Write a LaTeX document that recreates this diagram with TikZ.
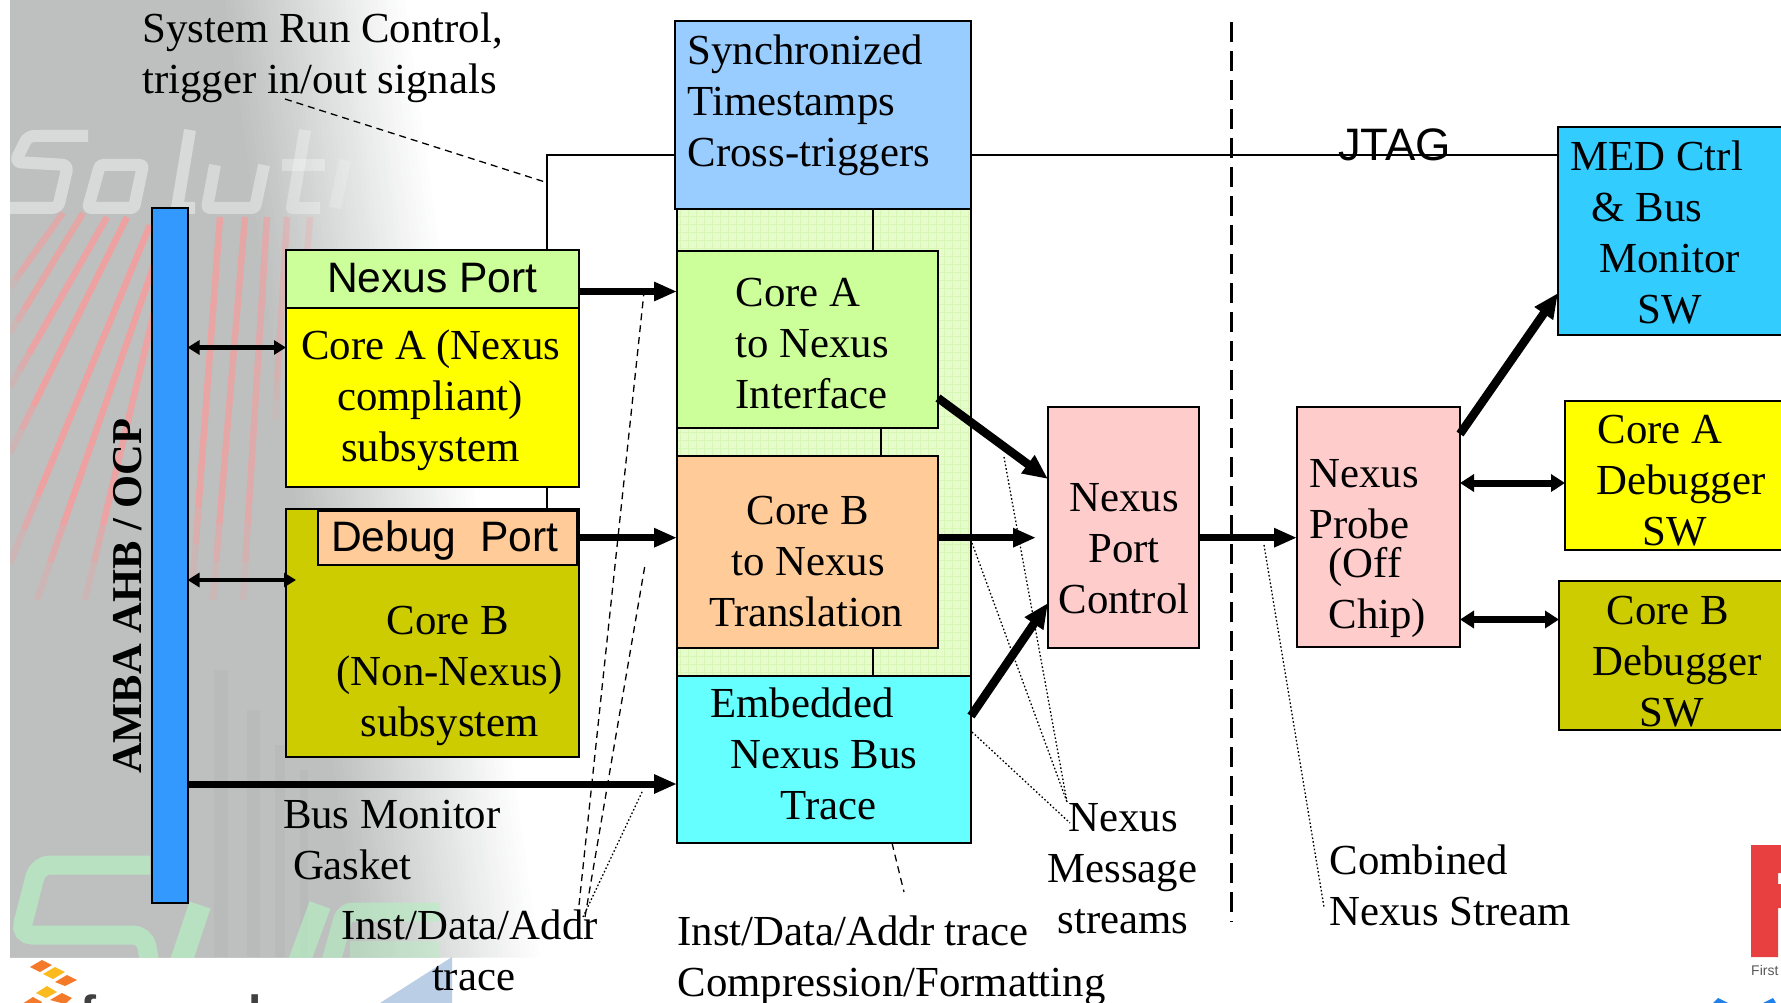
\documentclass[tikz,border=0pt]{standalone}
\usepackage{fontspec}
\setmainfont{Liberation Serif}
\newfontfamily\arialf{Liberation Sans}
\usetikzlibrary{arrows.meta,calc}
\definecolor{bgrey}{HTML}{BDC0BF}
\definecolor{rline}{HTML}{F79C9C}
\definecolor{gS}{HTML}{B6F0C2}
\definecolor{cblue}{HTML}{3399FF}
\definecolor{csky}{HTML}{99CCFF}
\definecolor{clime}{HTML}{CCFF99}
\definecolor{cyel}{HTML}{FFFF00}
\definecolor{colive}{HTML}{CCCC00}
\definecolor{cpeach}{HTML}{FFCC99}
\definecolor{ccyan}{HTML}{66FFFF}
\definecolor{cpink}{HTML}{FFCCCC}
\definecolor{cmed}{HTML}{33CCFF}
\definecolor{chatch}{HTML}{E6FCCB}
\definecolor{cgrid}{HTML}{D6F7B6}
\definecolor{forange}{HTML}{F47A2A}
\definecolor{fyellow}{HTML}{FBBB1E}
\definecolor{tri}{HTML}{BACFE6}
\definecolor{fsred}{HTML}{E84040}
\definecolor{fsblue}{HTML}{1E80E8}
\tikzset{
  box/.style={draw=black,line width=2pt,inner sep=0pt,outer sep=0pt,anchor=north west},
  lbl/.style={inner sep=0pt,outer sep=0pt,anchor=north west,align=left,font=\fontsize{42.8}{51}\selectfont},
  arlbl/.style={inner sep=0pt,outer sep=0pt,anchor=base west,font=\arialf\fontsize{42.6}{51}\selectfont},
  thin line/.style={line width=2pt},
  bigarrow/.style={line width=7pt,-{Triangle[length=23pt,width=18pt]}},
  diagarrow/.style={line width=8.5pt,-{Triangle[length=25pt,width=21pt]}},
  midbi/.style={line width=7pt,{Triangle[length=14pt,width=17pt]}-{Triangle[length=14pt,width=17pt]}},
  smallbi/.style={line width=4.6pt,{Triangle[length=12pt,width=14pt]}-{Triangle[length=12pt,width=14pt]}},
  dashline/.style={line width=1.3pt,dash pattern=on 7pt off 5pt},
  dotline/.style={line width=1.3pt,dash pattern=on 1.6pt off 2.2pt},
  solstroke/.style={draw=white,line width=12pt,line join=round,opacity=.42},
}
\newcommand{\lblat}[4]{\node[lbl] (#1) at (#2-.5,#3+1.4-35.7) {#4};}
\newcommand{\bx}[6]{\node[box,fill=#6,minimum width=#4pt-#2pt,minimum height=#5pt-#3pt] (#1) at (#2,#3) {};}
\begin{document}
\begin{tikzpicture}[x=1pt,y=-1pt]
\useasboundingbox (0,0) rectangle (1781,1003);
\fill[white] (0,0) rectangle (1781,1003);
\clip (0,0) rectangle (1781,1003);
% ---- slide background
\begin{scope}
\clip (10,0) rectangle (800,957);
\foreach \i in {40,39,...,0}{
  \pgfmathsetmacro{\xt}{225+\i*4.6}
  \pgfmathsetmacro{\xb}{\xt+135}
  \pgfmathsetmacro{\mix}{\i*2.5}
  \fill[white!\mix!bgrey] (0,0) -- (\xt,0) -- (\xb,957) -- (0,957) -- cycle;
}
% fan of red lines
\foreach \xa/\ya/\xc/\yc/\op in {63/213/10/287/.6,83/213/10/333/.7,107/217/10/387/.8,127/217/10/453/.85,150/225/10/563/.85,168/225/37/600/.85,175/225/85/600/.8,220/217/193/580/.75,245/217/213/600/.7,267/217/243/600/.6,287/217/275/420/.4,310/217/300/340/.25}{
  \foreach \k in {0,...,9}{
    \pgfmathsetmacro{\ta}{\k/10}
    \pgfmathsetmacro{\tb}{(\k+1)/10}
    \pgfmathsetmacro{\oo}{\op*min(1,(10-\k)/3)}
    \draw[rline,line width=6.5pt,opacity=\oo] ($(\xa,\ya)!\ta!(\xc,\yc)$) -- ($(\xa,\ya)!\tb!(\xc,\yc)$);
  }
}
% darker nested stripes low down
\foreach \xa/\xc/\ya in {214/228/670,247/260/710,275/285/745,300/308/770}{
  \fill[black,opacity=.025] (\xa,\ya) rectangle (\xc,957);
}
% watermark word, top
\draw[solstroke,rounded corners=6pt] (88,136) -- (28,136) -- (15,162) -- (68,165) -- (58,208) -- (10,208);
\draw[solstroke,rounded corners=3pt] (100,165) -- (143,165) -- (134,208) -- (88,208) -- cycle;
\draw[solstroke] (190,130) -- (177,208) -- (195,208);
\draw[solstroke,rounded corners=3pt,opacity=.38] (215,165) -- (207,208) -- (255,208) -- (264,165);
\draw[solstroke,opacity=.3] (305,130) -- (292,208) -- (320,208);
\draw[solstroke,opacity=.3] (282,165) -- (325,165);
\draw[solstroke,opacity=.18] (345,160) -- (335,208);
% watermark word, bottom
\draw[gS,line width=19pt,rounded corners=12pt,opacity=.7] (150,865) -- (38,865) -- (20,935) -- (145,935) -- (150,965);
\draw[gS,line width=22pt,opacity=.7] (200,905) -- (180,965);
\draw[gS,line width=22pt,opacity=.65] (320,905) -- (298,965);
\draw[gS,line width=19pt,opacity=.6,rounded corners=8pt] (440,912) -- (345,912) -- (330,965);
\draw[gS,line width=19pt,opacity=.45] (350,950) -- (440,950);
\end{scope}
% ---- bottom slide artwork
\fill[tri] (380,1003) -- (452,957) -- (452,1003) -- cycle;
\fill[forange] (30,967) -- (42,960) -- (52,965) -- (40,972) -- cycle;
\fill[fyellow] (43,974) -- (55,967) -- (65,972) -- (53,979) -- cycle;
\fill[forange] (55,982) -- (67,975) -- (77,980) -- (65,986) -- cycle;
\fill[fyellow] (36,993) -- (47,986) -- (57,992) -- (46,998) -- cycle;
\fill[forange] (50,1000) -- (62,993) -- (72,998) -- (65,1004) -- cycle;
\fill[forange] (22,1004) -- (33,997) -- (42,1002) -- (40,1004) -- cycle;
\node[inner sep=0pt,anchor=base west,text=black!75,font=\arialf\bfseries\fontsize{48}{60}\selectfont] (frees) at (80,1029) {freescale};
\fill[fsred] (1751,845) -- (1785,845) -- (1785,873) -- (1778,873) -- (1778,884) -- (1785,884) -- (1785,908) -- (1778,908) -- (1778,957) -- (1751,957) -- cycle;
\node[inner sep=0pt,anchor=base west,text=black!65,font=\arialf\fontsize{14}{16}\selectfont] (fsfirst) at (1751,975) {First S};
\fill[fsblue] (1713,1003) -- (1718,998) -- (1728,1003) -- cycle;
\fill[fsblue] (1763,1003) -- (1773,998) -- (1776,1003) -- cycle;
% ---- green column
\fill[chatch] (677,209) rectangle (971,676);
\draw[cgrid,line width=.6pt,step=8pt] (677,209) grid (971,676);
\draw[black,line width=2pt] (677,209) -- (677,676) (971,209) -- (971,676);
% ---- anchors for side connections
\coordinate (yjt) at (0,155);
\coordinate (ynp) at (0,291.5);
\coordinate (yca) at (0,347.5);
\coordinate (ydb) at (0,537.7);
\coordinate (ycb) at (0,580);
\coordinate (ybus) at (0,784);
\coordinate (ya1) at (0,398);
\coordinate (ya2) at (0,479);
\coordinate (ye1) at (0,716);
\coordinate (ye2) at (0,603);
\coordinate (ymed1) at (0,434);
\coordinate (ymed2) at (0,293);
\coordinate (yda) at (0,483);
\coordinate (ydbg) at (0,619.5);
\coordinate (xstub) at (547,0);
\coordinate (xab) at (873,0);
\coordinate (xbc) at (881,0);
% ---- boxes
\bx{amba}{152}{208}{187.5}{903}{cblue}
\bx{npo}{286}{250}{579}{308}{clime}
\bx{cora}{286}{308}{579}{487}{cyel}
\bx{corb}{286}{509}{579}{757}{colive}
\bx{dbg}{318}{511}{577}{565}{cpeach}
\bx{sync}{675}{21.5}{971}{209}{csky}
\bx{cani}{677}{251}{938}{428}{clime}
\bx{cbnt}{677}{456}{938}{648}{cpeach}
\bx{emb}{677}{675.5}{971}{843}{ccyan}
\bx{ctrl}{1048}{407}{1199}{648}{cpink}
\bx{prb}{1297}{407}{1460}{647}{cpink}
\bx{med}{1558}{127}{1800}{335}{cmed}
\bx{adb}{1565}{401}{1800}{550}{cyel}
\bx{bdb}{1559}{581}{1800}{730}{colive}
% ---- thin links
\draw[thin line] (sync.west |- yjt) -| (npo.north -| xstub);
\draw[thin line] (cora.south -| xstub) -- (corb.north -| xstub);
\draw[thin line] (sync.east |- yjt) -- (med.west |- yjt);
\draw[thin line] (sync.south -| xab) -- (cani.north -| xab);
\draw[thin line] (cani.south -| xbc) -- (cbnt.north -| xbc);
\draw[thin line] (cbnt.south -| xab) -- (emb.north -| xab);
% ---- thick arrows
\draw[bigarrow] (npo.east |- ynp) -- (cani.west |- ynp);
\draw[bigarrow] (dbg.east |- ydb) -- (cbnt.west |- ydb);
\draw[bigarrow] (amba.east |- ybus) -- (emb.west |- ybus);
\coordinate (bend) at (1036,537.7);
\draw[bigarrow] (cbnt.east |- ydb) -- (bend);
\draw[diagarrow] (cani.east |- ya1) -- (ctrl.west |- ya2);
\draw[diagarrow] (emb.east |- ye1) -- (ctrl.west |- ye2);
\draw[bigarrow] (ctrl.east |- ydb) -- (prb.west |- ydb);
\draw[diagarrow] (prb.east |- ymed1) -- (med.west |- ymed2);
\draw[midbi] (prb.east |- yda) -- (adb.west |- yda);
\draw[midbi] (prb.east |- ydbg) -- (bdb.west |- ydbg);
\draw[smallbi] (amba.east |- yca) -- (cora.west |- yca);
\coordinate (cbend) at (296,580);
\draw[smallbi] (amba.east |- ycb) -- (cbend);
% ---- divider
\coordinate (dv1) at (1231.7,22);
\coordinate (dv2) at (1231.7,922);
\draw[line width=2.6pt,dash pattern=on 20pt off 9pt] (dv1) -- (dv2);
% ---- labels
\lblat{tsys}{143}{40.7}{\strut System Run Control,\\\strut trigger in/out signals}
\lblat{tsyn}{688}{63}{\strut Synchronized\\\strut Timestamps\\\strut Cross-triggers}
\lblat{tca}{301.6}{358}{\strut Core A (Nexus\\\strut\hspace*{36pt}compliant)\\\strut\hspace*{40pt}subsystem}
\lblat{tcb}{337}{633}{\strut\hspace*{50pt}Core B\\\strut (Non-Nexus)\\\strut\hspace*{24pt}subsystem}
\lblat{tan}{736}{305}{\strut Core A\\\strut to Nexus\\\strut Interface}
\lblat{tbn}{710}{523}{\strut\hspace*{37pt}Core B\\\strut\hspace*{22pt}to Nexus\\\strut Translation}
\lblat{tem}{711}{716}{\strut Embedded\\\strut\hspace*{20pt}Nexus Bus\\\strut\hspace*{70pt}Trace}
\lblat{tctl}{1059}{510}{\strut\hspace*{11pt}Nexus\\\strut\hspace*{30pt}Port\\\strut Control}
\lblat{tprb}{1310}{485.6}{\strut Nexus\\\strut Probe\\[-12pt]\strut\hspace*{19pt}(Off\\\strut\hspace*{19pt}Chip)}
\lblat{tmed}{1571}{168.7}{\strut MED Ctrl\\\strut\hspace*{21pt}\& Bus\\\strut\hspace*{29pt}Monitor\\\strut\hspace*{67pt}SW}
\lblat{tada}{1597}{442}{\strut\hspace*{1pt}Core A\\\strut Debugger\\\strut\hspace*{46pt}SW}
\lblat{tbdb}{1593}{623}{\strut\hspace*{14pt}Core B\\\strut Debugger\\\strut\hspace*{47pt}SW}
\lblat{tbus}{283.5}{827}{\strut Bus Monitor\\\strut\hspace*{10pt}Gasket}
\lblat{tida}{341.5}{938}{\strut Inst/Data/Addr\\\strut\hspace*{91pt}trace}
\lblat{tcmp}{678}{944}{\strut Inst/Data/Addr trace\\\strut Compression/Formatting}
\lblat{tmsg}{1048}{830}{\strut\hspace*{21pt}Nexus\\\strut Message\\\strut\hspace*{10pt}streams}
\lblat{tcmb}{1330}{873}{\strut Combined\\\strut Nexus Stream}
\node[arlbl,font=\arialf\fontsize{45.5}{51}\selectfont] (tjt) at (1338,161) {JTAG};
\node[arlbl] (tnp) at (327,292.5) {Nexus Port};
\node[arlbl] (tdp) at (331,551.5) {Debug\ \ Port};
\node[inner sep=0pt,anchor=base west,rotate=90,font=\bfseries\fontsize{42.5}{51}\selectfont] (tamba) at (141,774) {AMBA AHB / OCP};
% ---- leader lines (free ends at labels)
\coordinate (s1) at (285,99); \coordinate (s2) at (545,182);
\draw[dashline] (s1) -- (s2);
\coordinate (i0) at (579,905); \coordinate (i1) at (644,292);
\draw[dashline] (i0) -- (i1);
\coordinate (i2) at (585,917); \coordinate (i3) at (645,565);
\draw[dashline] (i2) -- (i3);
\coordinate (i4) at (583,917); \coordinate (i5) at (643,790);
\draw[dotline] (i4) -- (i5);
\coordinate (c1) at (892,843); \coordinate (c2) at (904,892);
\draw[dashline] (c1) -- (c2);
\coordinate (m0) at (1067,802);
\coordinate (m1) at (1004,457);
\draw[dotline] (m1) -- (m0);
\coordinate (m2) at (972,543);
\draw[dotline] (m2) -- (m0);
\coordinate (m3) at (972,732); \coordinate (m4) at (1070,823);
\draw[dotline] (m3) -- (m4);
\coordinate (k1) at (1264,545); \coordinate (k2) at (1324,907);
\draw[dotline] (k1) -- (k2);
\end{tikzpicture}
\end{document}
